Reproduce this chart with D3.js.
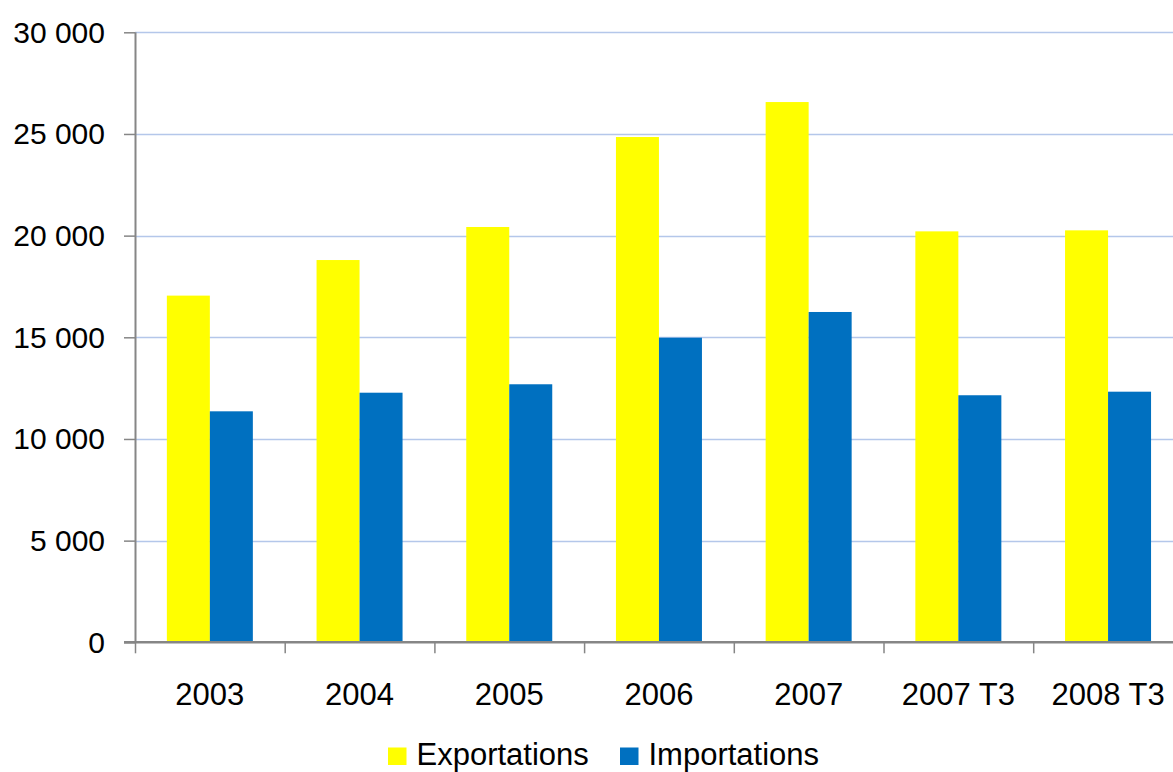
<!DOCTYPE html>
<html><head><meta charset="utf-8">
<script src="https://cdn.jsdelivr.net/npm/d3@7"></script>
<style>body{margin:0;background:#fff}svg{display:block;font-family:"Liberation Sans",Arial,sans-serif}</style>
</head><body><svg id="c" width="1173" height="772"></svg>
<script>
const categories = ["2003","2004","2005","2006","2007","2007 T3","2008 T3"];
const exportations = [17050,18800,20425,24850,26570,20210,20260];
const importations = [11360,12275,12690,14980,16245,12150,12325];
const seriesNames = ["Exportations","Importations"];
const seriesColors = ["#FFFF00","#0070C0"];
const yTicks = [0,5000,10000,15000,20000,25000,30000];

(function(){
const svg = d3.select("#c");
const pLeft = 135, pTop = 32.3, pBottom = 642.3, step = 149.7;
const pRight = pLeft + step*categories.length;
const x = d3.scaleBand().domain(categories).range([pLeft,pRight]).padding(0);
const y = d3.scaleLinear().domain([0,30000]).range([pBottom,pTop]);
const barW = 43;
const fmt = v => d3.format(",")(v).replace(/,/g," ");

// gridlines
svg.append("g").selectAll("line").data(yTicks.filter(d=>d>0)).join("line")
  .attr("x1",pLeft).attr("x2",1173).attr("y1",d=>Math.round(y(d))+0.5).attr("y2",d=>Math.round(y(d))+0.5)
  .attr("stroke","#b4c7ea").attr("stroke-width",1.3);

// bars
const series = [exportations, importations];
series.forEach((vals,si)=>{
  svg.append("g").selectAll("rect").data(categories).join("rect")
    .attr("x",(d)=>x(d)+x.bandwidth()/2 - barW + si*barW)
    .attr("width",barW)
    .attr("y",(d,i)=>y(vals[i]))
    .attr("height",(d,i)=>pBottom-y(vals[i]))
    .attr("fill",seriesColors[si]);
});

// y axis
const yAxis = svg.append("g").attr("transform",`translate(${pLeft},0)`)
  .call(d3.axisLeft(y).tickValues(yTicks).tickFormat(fmt).tickSize(11).tickPadding(19));
yAxis.select(".domain").attr("stroke","#868686").attr("stroke-width",2).attr("d",`M0.5,${pTop}V${pBottom}`);
yAxis.selectAll(".tick line").attr("stroke","#868686").attr("stroke-width",1.5);
yAxis.selectAll("text").attr("font-size",30).attr("fill","#000").attr("font-family","Liberation Sans, Arial, sans-serif").attr("dy","0.33em");

// x axis
const xAxis = svg.append("g").attr("transform",`translate(0,${pBottom})`)
  .call(d3.axisBottom(x).tickSize(0).tickPadding(40));
xAxis.select(".domain").attr("stroke","#868686").attr("stroke-width",2.5).attr("d",`M${pLeft-11},0H1173`);
xAxis.selectAll("text").attr("font-size",31).attr("fill","#000").attr("font-family","Liberation Sans, Arial, sans-serif").attr("dy","0.72em");
svg.append("g").selectAll("line").data(d3.range(categories.length+1)).join("line")
  .attr("x1",i=>pLeft+i*step+0.5).attr("x2",i=>pLeft+i*step+0.5)
  .attr("y1",pBottom).attr("y2",pBottom+11)
  .attr("stroke","#868686").attr("stroke-width",1.5);

// legend
const legX = [388,620];
const leg = svg.append("g");
seriesNames.forEach((n,i)=>{
  leg.append("rect").attr("x",legX[i]).attr("y",747.5).attr("width",18.5).attr("height",17.5).attr("fill",seriesColors[i]);
  leg.append("text").attr("x",legX[i]+28.5).attr("y",765).attr("font-size",31).attr("fill","#000").text(n);
});
})();
</script></body></html>
